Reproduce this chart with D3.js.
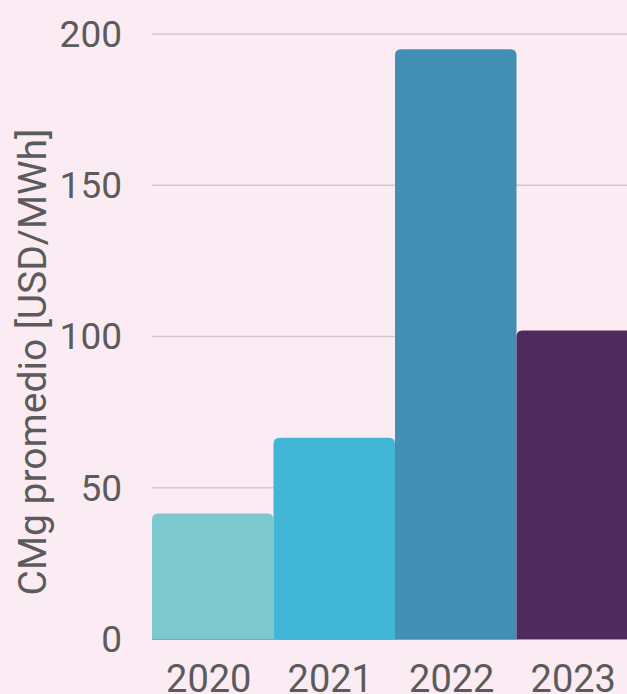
<!DOCTYPE html>
<html>
<head>
<meta charset="utf-8">
<script src="https://cdn.jsdelivr.net/npm/d3@7"></script>
<style>
  html, body { margin: 0; padding: 0; background: #fbecf3; overflow: hidden; }
  svg { display: block; font-family: Roboto, "Noto Sans", sans-serif; }
</style>
</head>
<body>
<svg id="chart" width="627" height="694"></svg>
<script>
// Average marginal cost per year
const years = ["2020", "2021", "2022", "2023"];
const values = [41.5, 66.5, 195, 102];
const barColors = ["#7dc8ce", "#41b6d6", "#438fb4", "#4e2a5e"];
const yTicks = [0, 50, 100, 150, 200];
const yTitle = "CMg promedio [USD/MWh]";

const W = 627, H = 694;
const plot = { left: 152, top: 34, bottom: 639, width: 486 };

const svg = d3.select("#chart");

const x = d3.scaleBand()
  .domain(years)
  .range([plot.left, plot.left + plot.width])
  .padding(0);

const y = d3.scaleLinear()
  .domain([0, 200])
  .range([plot.bottom, plot.top]);

// gridlines
svg.append("g")
  .selectAll("line")
  .data(yTicks.filter(d => d > 0))
  .join("line")
  .attr("x1", plot.left)
  .attr("x2", plot.left + plot.width)
  .attr("y1", d => y(d))
  .attr("y2", d => y(d))
  .attr("stroke", "#d6c6cf")
  .attr("stroke-width", 1.5);

// bars with rounded top corners
const r = 6;
function barPath(x0, x1, yTop, yBase) {
  return `M${x0},${yBase}V${yTop + r}Q${x0},${yTop} ${x0 + r},${yTop}` +
         `H${x1 - r}Q${x1},${yTop} ${x1},${yTop + r}V${yBase}Z`;
}
svg.append("g")
  .selectAll("path")
  .data(years.map((yr, i) => ({ yr, v: values[i], c: barColors[i] })))
  .join("path")
  .attr("d", d => barPath(x(d.yr), x(d.yr) + x.bandwidth(), y(d.v), y(0)))
  .attr("fill", d => d.c);

// baseline
svg.append("line")
  .attr("x1", plot.left)
  .attr("x2", plot.left + plot.width)
  .attr("y1", y(0) + 0.5)
  .attr("y2", y(0) + 0.5)
  .attr("stroke", "#9a9a9a")
  .attr("stroke-width", 1.2);

// y tick labels
svg.append("g")
  .selectAll("text")
  .data(yTicks)
  .join("text")
  .attr("x", 122)
  .attr("y", d => y(d))
  .attr("dy", "0.35em")
  .attr("text-anchor", "end")
  .attr("font-size", 37)
  .attr("fill", "#5b5b5b")
  .text(d => d);

// x tick labels
svg.append("g")
  .selectAll("text")
  .data(years)
  .join("text")
  .attr("x", d => x(d) + x.bandwidth() / 2 - 4)
  .attr("y", 692)
  .attr("text-anchor", "middle")
  .attr("font-size", 38)
  .attr("fill", "#5b5b5b")
  .text(d => d);

// y axis title
svg.append("text")
  .attr("transform", "translate(46,362) rotate(-90)")
  .attr("text-anchor", "middle")
  .attr("font-size", 39)
  .attr("fill", "#5b5b5b")
  .text(yTitle);
</script>
</body>
</html>
